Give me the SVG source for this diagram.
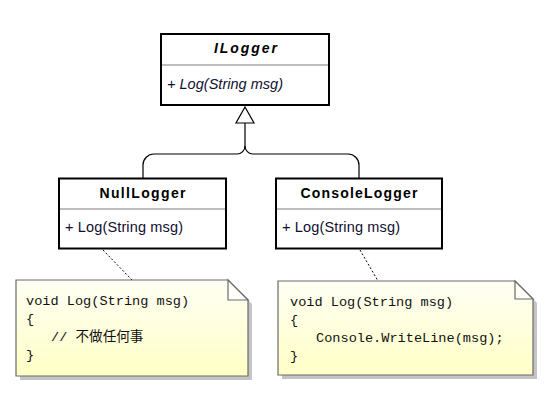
<svg xmlns="http://www.w3.org/2000/svg" width="546" height="411" viewBox="0 0 546 411">
<defs>
<linearGradient id="noteGrad" x1="0" y1="0" x2="0" y2="1">
<stop offset="0" stop-color="#fffff4"/>
<stop offset="1" stop-color="#ffffc6"/>
</linearGradient>
</defs>
<style>
.cls{fill:#fff;stroke:#000;stroke-width:2}
.sep{stroke:#a8a8a8;stroke-width:1.5}
.title{font-family:"Liberation Sans",Arial,sans-serif;font-weight:bold;font-size:14px;fill:#000;text-anchor:middle}
.meth{font-family:"Liberation Sans",Arial,sans-serif;font-size:14.5px;fill:#101030}
.note{fill:url(#noteGrad);stroke:#6a6a6a;stroke-width:1.2}
.shadow{fill:#c4c4c4}
.fold{fill:#fffff8;stroke:#6a6a6a;stroke-width:1.2}
.code{font-family:"Liberation Mono","Courier New","Noto Sans CJK SC",monospace;font-size:13.6px;fill:#111}
.link{fill:none;stroke:#000;stroke-width:1.2}
.dash{fill:none;stroke:#000;stroke-width:1;stroke-dasharray:2,2}
</style>
<rect width="546" height="411" fill="#fff"/>
<g id="connectors">
<path class="link" d="M143,178 V165 A11,11 0 0 1 154,154 H237 A8,8 0 0 0 245,146 V123"/>
<path class="link" d="M359,178 V165 A11,11 0 0 0 348,154 H253 A8,8 0 0 1 245,146"/>
<polygon points="245,107 254,123 236,123" fill="#fff" stroke="#000" stroke-width="1.2"/>
<line class="dash" x1="103" y1="250" x2="132" y2="280"/>
<line class="dash" x1="360" y1="250" x2="378" y2="281"/>
</g>
<g id="ILogger">
<rect class="cls" x="161" y="34" width="168" height="71"/>
<line class="sep" x1="162" y1="65" x2="328" y2="65"/>
<text class="title" x="245.5" y="53" font-style="italic" textLength="63" lengthAdjust="spacing">ILogger</text>
<text class="meth" x="167" y="89" font-style="italic" textLength="116" lengthAdjust="spacing">+ Log(String msg)</text>
</g>
<g id="NullLogger">
<rect class="cls" x="59" y="178.5" width="167" height="70"/>
<line class="sep" x1="60" y1="209" x2="225" y2="209"/>
<text class="title" x="142.5" y="198" textLength="86" lengthAdjust="spacing">NullLogger</text>
<text class="meth" x="65" y="232" textLength="118" lengthAdjust="spacing">+ Log(String msg)</text>
</g>
<g id="ConsoleLogger">
<rect class="cls" x="276" y="178.5" width="166" height="70"/>
<line class="sep" x1="277" y1="209" x2="441" y2="209"/>
<text class="title" x="359" y="198" textLength="117" lengthAdjust="spacing">ConsoleLogger</text>
<text class="meth" x="282" y="232" textLength="118" lengthAdjust="spacing">+ Log(String msg)</text>
</g>
<g id="note1">
<path class="shadow" d="M20,284 H232 L252,304 V380 H20 Z"/>
<path class="note" d="M16,280 H228 L248,300 V376 H16 Z"/>
<path class="fold" d="M228,280 V300 H248 Z"/>
<text class="code" x="26" y="305">void Log(String msg)</text>
<text class="code" x="26" y="323">{</text>
<text class="code" x="51" y="341">// 不做任何事</text>
<text class="code" x="26" y="359">}</text>
</g>
<g id="note2">
<path class="shadow" d="M282,285 H519 L537,303 V379 H282 Z"/>
<path class="note" d="M278,281 H515 L533,299 V375 H278 Z"/>
<path class="fold" d="M515,281 V299 H533 Z"/>
<text class="code" x="290" y="306">void Log(String msg)</text>
<text class="code" x="290" y="324">{</text>
<text class="code" x="316" y="342">Console.WriteLine(msg);</text>
<text class="code" x="290" y="360">}</text>
</g>
</svg>
